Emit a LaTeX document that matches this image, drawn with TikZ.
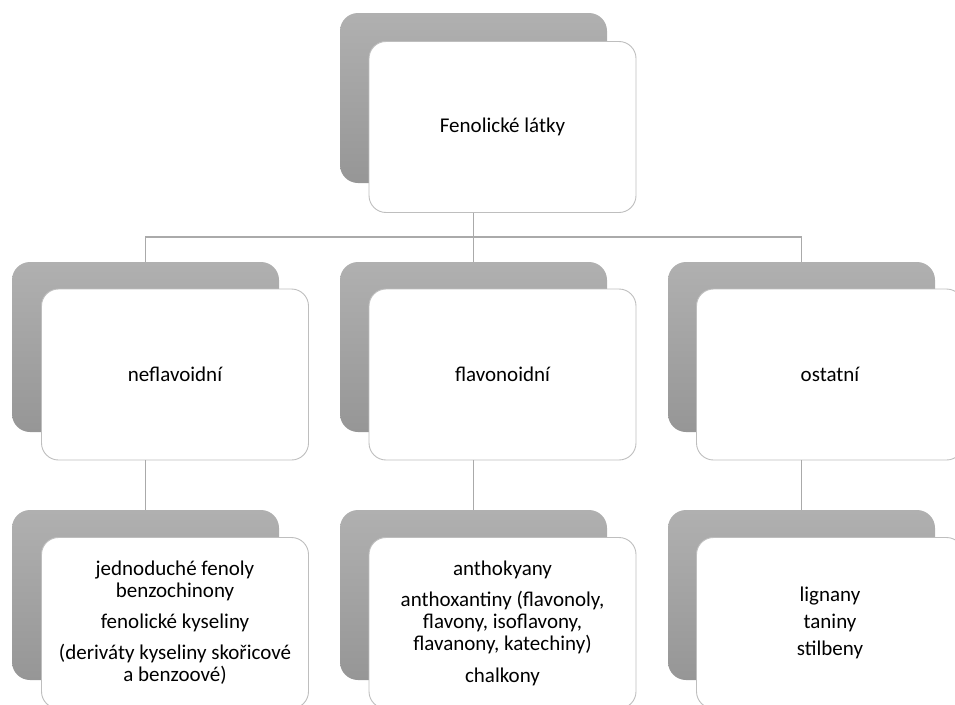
\documentclass[tikz,border=0pt]{standalone}
\usepackage{fontspec}
\setmainfont{Carlito}
\definecolor{shtop}{RGB}{176,176,176}
\definecolor{shbot}{RGB}{150,150,150}
\definecolor{boxline}{RGB}{190,190,190}
\definecolor{connline}{RGB}{170,170,170}
\begin{document}
\begin{tikzpicture}[x=1pt,y=-1pt,
  shbox/.style={rectangle, rounded corners=18pt, minimum width=267pt, minimum height=170pt,
    top color=shtop, bottom color=shbot, draw=none, inner sep=0pt},
  wbox/.style={rectangle, rounded corners=17pt, minimum width=267pt, minimum height=171pt,
    fill=white, draw=boxline, line width=0.9pt, inner sep=4pt,
    font=\fontsize{21}{22}\selectfont, align=center},
  conn/.style={draw=connline, line width=1.3pt}]
\useasboundingbox (0,0) rectangle (955,704);
% top
\node[shbox] (topsh) at (473.5,98) {};
\node[wbox] (topw) at (502.5,127) {Fenolické látky};
% middle row
\node[shbox] (m1sh) at (145.5,347) {};
\node[wbox] (m1w) at (175,374.5) {neflavoidní};
\node[shbox] (m2sh) at (473.5,347) {};
\node[wbox] (m2w) at (502.5,374.5) {flavonoidní};
\node[shbox] (m3sh) at (801.5,347) {};
\node[wbox] (m3w) at (830,374.5) {ostatní};
% bottom row
\node[shbox] (b1sh) at (145.5,595) {};
\node[wbox] (b1w) at (175,623) {jednoduché fenoly\\benzochinony\\[9pt]fenolické kyseliny\\[9pt](deriváty kyseliny skořicové\\a benzoové)};
\node[shbox] (b2sh) at (473.5,595) {};
\node[wbox] (b2w) at (502.5,623) {anthokyany\\[9pt]anthoxantiny (flavonoly,\\flavony, isoflavony,\\flavanony, katechiny)\\[10pt]chalkony};
\node[shbox] (b3sh) at (801.5,595) {};
\node[wbox] (b3w) at (830,623) {lignany\\[5pt]taniny\\[5pt]stilbeny};
% connectors
\coordinate (bus) at (473.5,237);
\draw[conn] (topsh.center |- topw.south) -- (bus);
\draw[conn] (m1sh.north) |- (bus) -| (m3sh.north);
\draw[conn] (bus) -- (m2sh.north);
\draw[conn] (m1sh.center |- m1w.south) -- (b1sh.north);
\draw[conn] (m2sh.center |- m2w.south) -- (b2sh.north);
\draw[conn] (m3sh.center |- m3w.south) -- (b3sh.north);
\end{tikzpicture}
\end{document}
